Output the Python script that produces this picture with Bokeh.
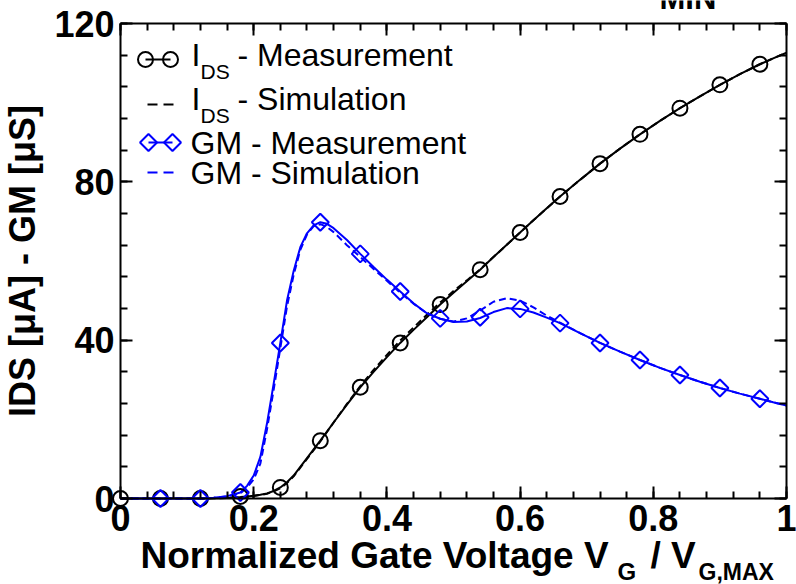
import numpy as np
from bokeh.plotting import figure
from bokeh.models import (Range1d, SingleIntervalTicker, LinearAxis, NumeralTickFormatter,
                          CustomJSTickFormatter, Label)
from bokeh.embed import file_html
from bokeh.resources import INLINE

# ---- measured points (normalized gate voltage) ----
vg_ids_meas = [0.0, 0.06, 0.12, 0.18, 0.24, 0.30, 0.36, 0.42, 0.48, 0.54,
               0.60, 0.66, 0.72, 0.78, 0.84, 0.90, 0.96]
ids_meas = [0.0, 0.0, 0.0, 0.5, 2.8, 14.6, 28.1, 39.3, 49.0, 57.8,
            67.2, 76.3, 84.6, 92.0, 98.6, 104.5, 109.7]

vg_gm_meas = [0.06, 0.12, 0.18, 0.24, 0.30, 0.36, 0.42, 0.48, 0.54,
              0.60, 0.66, 0.72, 0.78, 0.84, 0.90, 0.96]
gm_meas = [0.0, 0.0, 1.5, 39.3, 69.8, 61.8, 52.3, 45.5, 45.8,
           47.9, 44.3, 39.3, 35.0, 31.2, 27.9, 25.2]

# ---- continuous curves: measurement fit (solid) and simulation (dashed) ----
vg_curve = [0.00, 0.04, 0.08, 0.12, 0.14, 0.16, 0.18, 0.19, 0.20, 0.21,
            0.22, 0.23, 0.24, 0.25, 0.26, 0.27, 0.28, 0.29, 0.30, 0.31,
            0.32, 0.34, 0.36, 0.38, 0.40, 0.42, 0.44, 0.46, 0.48, 0.50,
            0.52, 0.54, 0.56, 0.58, 0.60, 0.62, 0.64, 0.66, 0.69, 0.72,
            0.75, 0.78, 0.81, 0.84, 0.87, 0.90, 0.93, 0.96, 0.98, 1.00]

ids_fit = [0.0, 0.0, 0.0, 0.0, 0.05, 0.15, 0.35, 0.5, 0.7, 0.95,
           1.3, 1.9, 2.8, 4.1, 5.8, 8.0, 10.2, 12.4, 14.6, 16.9,
           19.2, 23.7, 28.1, 32.0, 35.7, 39.3, 42.6, 45.8, 49.0, 52.0,
           54.9, 57.8, 61.0, 64.1, 67.2, 70.3, 73.3, 76.3, 80.5, 84.6,
           88.4, 92.0, 95.4, 98.6, 101.6, 104.5, 107.2, 109.7, 111.2, 112.6]

ids_sim = [0.0, 0.0, 0.0, 0.0, 0.05, 0.15, 0.3, 0.45, 0.65, 0.9,
           1.2, 1.8, 2.6, 3.9, 5.6, 7.8, 10.0, 12.2, 14.4, 16.8,
           19.2, 23.9, 28.4, 32.5, 36.3, 39.9, 43.2, 46.4, 49.5, 52.4,
           55.1, 57.9, 61.0, 64.1, 67.2, 70.3, 73.3, 76.3, 80.5, 84.6,
           88.4, 92.0, 95.4, 98.6, 101.6, 104.5, 107.2, 109.7, 111.2, 112.6]

gm_fit = [0.0, 0.0, 0.0, 0.0, 0.2, 0.6, 1.5, 3.2, 5.8, 10.5,
          19.0, 29.0, 39.3, 50.0, 57.5, 63.5, 67.0, 69.0, 69.8, 69.4,
          68.3, 65.3, 61.8, 58.5, 55.3, 52.3, 49.3, 46.8, 45.4, 44.6,
          44.7, 45.6, 47.1, 48.1, 47.9, 47.0, 45.7, 44.3, 41.8, 39.3,
          37.1, 35.0, 33.0, 31.2, 29.5, 27.9, 26.5, 25.2, 24.3, 23.5]

gm_sim = [0.0, 0.0, 0.0, 0.0, 0.2, 0.5, 1.3, 2.8, 4.8, 8.8,
          17.5, 27.5, 38.0, 48.5, 56.5, 62.8, 66.7, 68.8, 69.3, 68.6,
          67.3, 64.0, 61.0, 58.0, 55.0, 52.0, 49.2, 46.8, 45.4, 44.7,
          45.5, 47.5, 49.7, 50.6, 50.0, 48.3, 46.2, 44.4, 41.8, 39.3,
          37.1, 35.0, 33.0, 31.2, 29.5, 27.9, 26.5, 25.2, 24.3, 23.5]

X_LIM = (0.0, 1.0)
Y_LIM = (0.0, 120.0)

BLUE = "#0000ff"
FONT = "Liberation Sans"

# page geometry (pixels): the plot box sits inside a full-page drawing area
W, H = 796, 584
BOX_L, BOX_R, BOX_T, BOX_B = 120, 786, 23, 498

ux = (X_LIM[1] - X_LIM[0]) / (BOX_R - BOX_L)   # data units per pixel
uy = (Y_LIM[1] - Y_LIM[0]) / (BOX_B - BOX_T)
x_range = Range1d(X_LIM[0] - BOX_L * ux, X_LIM[1] + (W - BOX_R) * ux)
y_range = Range1d(Y_LIM[0] - (H - BOX_B) * uy, Y_LIM[1] + BOX_T * uy)

p = figure(width=W, height=H, x_range=x_range, y_range=y_range,
           output_backend="svg", toolbar_location=None,
           x_axis_type=None, y_axis_type=None, min_border=0)
p.outline_line_color = None
p.background_fill_color = "white"
p.border_fill_color = "white"
p.xgrid.visible = False
p.ygrid.visible = False

# page-pixel ranges (y counted downward from the page top) for legend and texts
p.extra_x_ranges = {"cx": Range1d(0, W)}
p.extra_y_ranges = {"cy": Range1d(H, 0)}

xt = SingleIntervalTicker(interval=0.2, num_minor_ticks=5)
yt = SingleIntervalTicker(interval=40, num_minor_ticks=5)
blank = CustomJSTickFormatter(code="return ''")

bottom = LinearAxis(ticker=xt, formatter=NumeralTickFormatter(format="0.[0]"),
                    fixed_location=Y_LIM[0], bounds=X_LIM)
top = LinearAxis(ticker=xt, formatter=blank, fixed_location=Y_LIM[1], bounds=X_LIM)
left = LinearAxis(ticker=yt, fixed_location=X_LIM[0], bounds=Y_LIM)
right = LinearAxis(ticker=yt, formatter=blank, fixed_location=X_LIM[1], bounds=Y_LIM)
p.add_layout(bottom, "below")
p.add_layout(top, "above")
p.add_layout(left, "left")
p.add_layout(right, "right")

for ax in (bottom, left, top, right):
    ax.axis_line_width = 2
    ax.axis_line_color = "black"
    ax.major_tick_line_width = 2
    ax.minor_tick_line_width = 2
    ax.major_tick_in = 12
    ax.major_tick_out = 0
    ax.minor_tick_in = 7
    ax.minor_tick_out = 0
    ax.major_label_text_font = FONT
    ax.major_label_text_font_style = "bold"
    ax.major_label_text_font_size = "36px"
    ax.major_label_text_color = "black"
    ax.major_label_standoff = 6

left.axis_label = "IDS [\u03bcA] - GM [\u03bcS]"
left.axis_label_text_font = FONT
left.axis_label_text_font_style = "bold"
left.axis_label_text_font_size = "36px"
left.axis_label_text_color = "black"
left.axis_label_standoff = 8

# ---- curves ----
p.line(vg_curve, ids_fit, line_color="black", line_width=2)
p.line(vg_curve, ids_sim, line_color="black", line_width=2, line_dash="7 4")
p.line(vg_curve, gm_fit, line_color=BLUE, line_width=2)
p.line(vg_curve, gm_sim, line_color=BLUE, line_width=2, line_dash="7 4")

# ---- measured markers ----
p.scatter(vg_ids_meas, ids_meas, marker="circle", size=15,
          line_color="black", line_width=2, fill_color=None)
p.scatter(vg_gm_meas, gm_meas, marker="square", angle=np.pi / 4, size=12,
          line_color=BLUE, line_width=2, fill_color=None)

# ---- legend samples (page pixels) ----
kw = dict(x_range_name="cx", y_range_name="cy")
p.line([145, 170], [59, 59], line_color="black", line_width=2, **kw)
p.scatter([145, 170], [59, 59], marker="circle", size=15,
          line_color="black", line_width=2, fill_color=None, **kw)
p.line([147, 175], [104, 104], line_color="black", line_width=2, line_dash="10 6", **kw)
p.line([148, 172], [142, 142], line_color=BLUE, line_width=2, **kw)
p.scatter([148, 172], [142, 142], marker="square", angle=np.pi / 4, size=12,
          line_color=BLUE, line_width=2, fill_color=None, **kw)
p.line([147, 175], [172, 172], line_color=BLUE, line_width=2, line_dash="10 6", **kw)


def text(t, cx, base, size, style="normal"):
    # base is the wanted baseline (page pixels); the label anchor sits ~0.36 em above it
    p.add_layout(Label(x=cx, y=base - 0.36 * size, text=t,
                       x_range_name="cx", y_range_name="cy",
                       text_font=FONT, text_font_size=f"{size}px", text_font_style=style,
                       text_color="black", text_baseline="alphabetic", text_align="left"))


# legend texts
text("I", 191, 66, 32)
text("DS", 200, 79, 21)
text("- Measurement", 237, 66, 32)
text("I", 191, 110, 32)
text("DS", 200, 123, 21)
text("- Simulation", 237, 110, 32)
text("GM - Measurement", 190, 154, 32)
text("GM - Simulation", 190, 184, 32)

# x-axis title with subscripts
text("Normalized Gate Voltage V", 140, 568, 37, "bold")
text("G", 617, 580, 24, "bold")
text("/ V", 650, 568, 37, "bold")
text("G,MAX", 698, 580, 23, "bold")

# panel tag at the top edge of the page
text("MIN", 659, 9, 31, "bold")

open("out.html", "w").write(file_html(p, INLINE))
